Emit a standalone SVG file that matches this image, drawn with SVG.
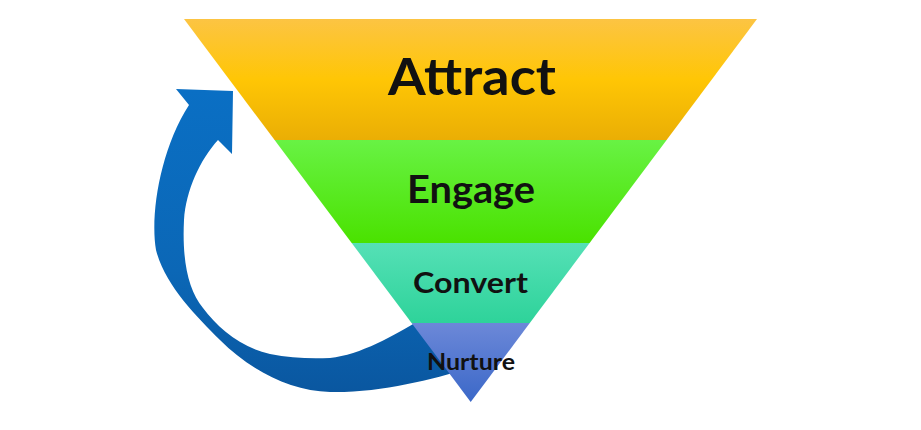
<svg xmlns="http://www.w3.org/2000/svg" width="921" height="430" viewBox="0 0 921 430">
  <style>
    .lbl { font-family: Lato, "Liberation Sans", sans-serif; font-weight: bold; fill: #111; text-anchor: middle; }
  </style>
  <defs>
    <linearGradient id="gA" x1="0" y1="19" x2="0" y2="140" gradientUnits="userSpaceOnUse">
      <stop offset="0" stop-color="#FCC443"/>
      <stop offset="0.5" stop-color="#FFC605"/>
      <stop offset="1" stop-color="#EAAE05"/>
    </linearGradient>
    <linearGradient id="gE" x1="0" y1="140" x2="0" y2="243" gradientUnits="userSpaceOnUse">
      <stop offset="0" stop-color="#68F244"/>
      <stop offset="1" stop-color="#4AE200"/>
    </linearGradient>
    <linearGradient id="gC" x1="0" y1="243" x2="0" y2="323" gradientUnits="userSpaceOnUse">
      <stop offset="0" stop-color="#55E0B6"/>
      <stop offset="1" stop-color="#2ED39A"/>
    </linearGradient>
    <linearGradient id="gN" x1="0" y1="323" x2="0" y2="402" gradientUnits="userSpaceOnUse">
      <stop offset="0" stop-color="#6C88D8"/>
      <stop offset="1" stop-color="#3B68C8"/>
    </linearGradient>
    <linearGradient id="gArrow" x1="0" y1="90" x2="0" y2="392" gradientUnits="userSpaceOnUse">
      <stop offset="0" stop-color="#0A6FC4"/>
      <stop offset="0.6" stop-color="#0B67B6"/>
      <stop offset="1" stop-color="#0A57A0"/>
    </linearGradient>
  </defs>

  <g id="connectors">
    <path id="cycle-arrow" fill="url(#gArrow)" d="M189,105 L176,89 L233,91 L232,154 L218,140 C200,160 186,190 184,220 C182,260 188,290 203,308 C218,328 240,347 270,354 C290,358 310,359 330,358 C360,355 395,335 420,320 L470,320 L470,368 C430,380 380,393 330,392 C290,391 250,370 220,340 C195,315 165,285 156,250 C150,215 160,150 189,105 Z"/>
  </g>

  <g id="attract">
    <polygon points="184,19 757,19 666.6,140 274.6,140" fill="url(#gA)"/>
    <text class="lbl" x="472" y="95" font-size="51" textLength="168" lengthAdjust="spacingAndGlyphs">Attract</text>
  </g>
  <g id="engage">
    <polygon points="274.6,140 666.6,140 589.6,243 351.7,243" fill="url(#gE)"/>
    <text class="lbl" x="471" y="203" font-size="39" textLength="128" lengthAdjust="spacingAndGlyphs">Engage</text>
  </g>
  <g id="convert">
    <polygon points="351.7,243 589.6,243 529.8,323 411.6,323" fill="url(#gC)"/>
    <text class="lbl" x="470.5" y="293" font-size="29" textLength="115" lengthAdjust="spacingAndGlyphs">Convert</text>
  </g>
  <g id="nurture">
    <polygon points="411.6,323 529.8,323 470.7,402" fill="url(#gN)"/>
    <text class="lbl" x="471" y="370" font-size="23.5" textLength="88" lengthAdjust="spacingAndGlyphs">Nurture</text>
  </g>
</svg>
